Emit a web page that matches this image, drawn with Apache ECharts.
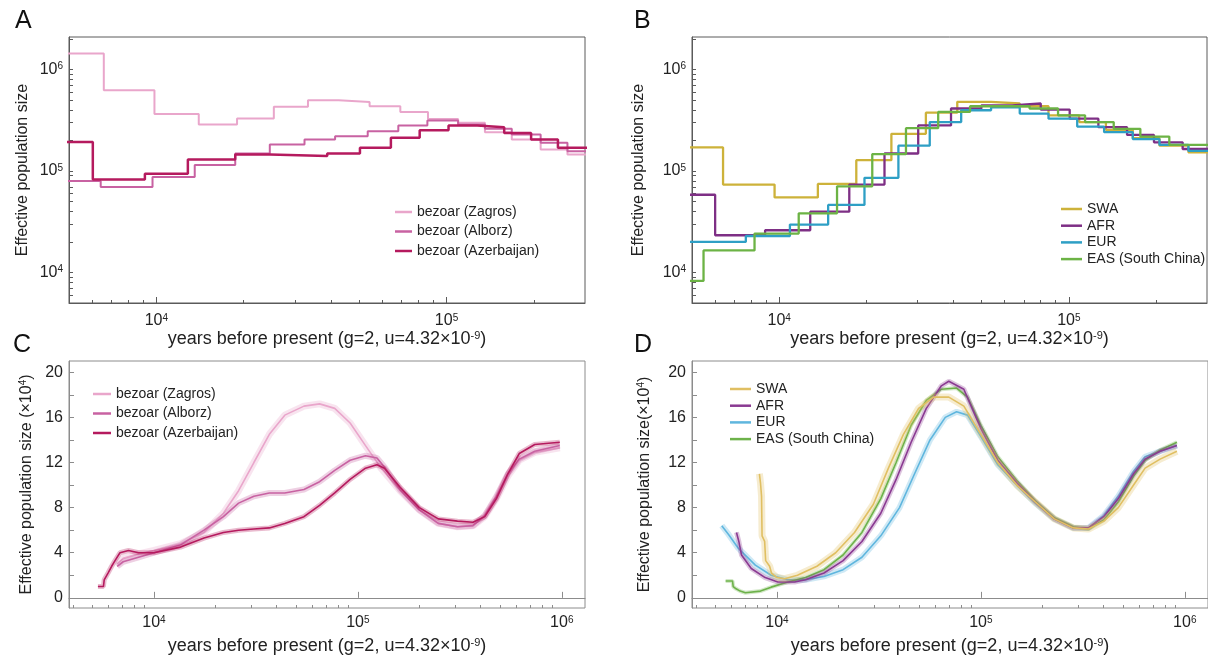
<!DOCTYPE html>
<html><head><meta charset="utf-8">
<script src="https://cdn.jsdelivr.net/npm/echarts@6/dist/echarts.min.js"></script>
<style>html,body{margin:0;padding:0;background:#fff}#c{width:1208px;height:658px}</style>
</head><body><div id="c"></div>
<script>
// ---------- Panel A (PSMC, log-log, [years, Ne]) ----------
const zagrosA = [[4000,1.44e6],[6590,6.27e5],[9850,3.66e5],[14000,2.88e5],[18970,3.30e5],[25400,4.30e5],[33300,4.99e5],[42500,4.81e5],[54300,4.36e5],[69300,3.83e5],[86300,3.27e5],[109600,2.99e5],[135600,2.42e5],[167800,2.05e5],[211000,1.63e5],[261000,1.46e5],[400000,1.46e5]];
const alborzA = [[4000,7.98e4],[6430,6.97e4],[9700,8.74e4],[13560,1.15e5],[18700,1.49e5],[24600,1.83e5],[32400,2.05e5],[41300,2.21e5],[53500,2.47e5],[68200,2.81e5],[85900,3.15e5],[109600,2.88e5],[135600,2.61e5],[167800,2.29e5],[211000,1.90e5],[261000,1.57e5],[400000,1.57e5]];
const azerA = [[4000,1.93e5],[6040,8.28e4],[9130,9.42e4],[12840,1.30e5],[18700,1.46e5],[24600,1.41e5],[38800,1.49e5],[50300,1.70e5],[64300,2.13e5],[80800,2.53e5],[101600,2.81e5],[127600,2.71e5],[158000,2.38e5],[195600,2.05e5],[242000,1.70e5],[400000,1.70e5]];

// ---------- Panel B ----------
const swaB = [[4000,1.71e5],[6400,7.36e4],[9640,5.50e4],[13600,7.47e4],[18460,1.28e5],[24400,2.33e5],[32100,3.77e5],[41200,4.82e5],[53900,4.64e5],[67700,4.36e5],[85100,3.55e5],[108600,3.04e5],[134300,2.55e5],[166300,2.11e5],[205600,1.78e5],[258800,1.53e5],[400000,1.53e5]];
const afrB = [[4000,5.84e4],[6010,2.33e4],[8940,2.61e4],[12800,3.98e4],[17460,7.36e4],[23100,1.49e5],[30200,2.82e5],[39200,4.14e5],[49900,4.45e5],[63700,4.64e5],[80000,4.04e5],[100700,3.29e5],[126500,2.71e5],[158900,2.27e5],[196800,1.92e5],[247200,1.65e5],[400000,1.65e5]];
const eurB = [[4000,2.0e4],[7670,2.29e4],[10890,2.97e4],[14760,4.64e4],[19700,8.58e4],[25800,1.78e5],[33100,3.04e5],[42500,3.98e5],[53900,4.24e5],[67700,3.69e5],[85100,3.29e5],[106900,2.75e5],[132400,2.42e5],[166300,2.07e5],[205600,1.81e5],[258800,1.58e5],[400000,1.58e5]];
const easB = [[4000,8.26e3],[5480,1.65e4],[8220,2.42e4],[11680,3.83e4],[15840,7.08e4],[20960,1.47e5],[27400,2.65e5],[35400,3.83e5],[45600,4.36e5],[58200,4.36e5],[73200,4.14e5],[91800,3.55e5],[113800,3.04e5],[142900,2.61e5],[176600,2.19e5],[222300,1.81e5],[400000,1.81e5]];

// ---------- Panel C (×10^4) ----------
const zagrosC = [[6600,3.0],[7060,3.5],[8400,3.9],[10000,4.2],[13500,4.8],[17600,5.8],[21900,7.5],[26000,9.5],[30900,12.0],[36800,14.5],[43800,16.2],[54400,17.0],[64900,17.2],[77000,16.8],[91600,15.5],[109000,13.5],[130000,11.5],[161000,9.5],[200000,7.8],[248000,6.6],[308000,6.3],[367000,6.4],[419000,7.2],[478000,8.8],[544000,10.8],[619000,12.2],[737000,12.9],[978000,13.3]];
const alborzC = [[6600,2.8],[7060,3.2],[8400,3.6],[10000,4.0],[13500,4.7],[17600,6.0],[21900,7.2],[26000,8.4],[30900,9.0],[36800,9.3],[43800,9.3],[54400,9.6],[64900,10.3],[77000,11.3],[91600,12.2],[109000,12.6],[124000,12.4],[135000,11.6],[161000,9.6],[200000,7.8],[248000,6.6],[308000,6.3],[367000,6.4],[419000,7.3],[478000,9.0],[544000,11.0],[619000,12.3],[737000,13.0],[978000,13.5]];
const azerC = [[5310,1.0],[5650,1.0],[5700,1.6],[5950,2.2],[6200,2.8],[6440,3.3],[6810,4.0],[7500,4.2],[8400,4.0],[10000,4.0],[13500,4.5],[17600,5.3],[21900,5.8],[26000,6.0],[30900,6.1],[36800,6.2],[43800,6.6],[54400,7.2],[64900,8.2],[77000,9.3],[91600,10.5],[109000,11.5],[124000,11.8],[135000,11.5],[161000,9.8],[200000,8.0],[248000,7.0],[308000,6.8],[367000,6.7],[419000,7.2],[478000,8.8],[544000,11.0],[619000,12.8],[737000,13.6],[978000,13.8]];

// ---------- Panel D (×10^4) ----------
const swaD = [[8200,11.0],[8300,10.2],[8400,9.0],[8450,5.5],[8700,5.0],[8800,3.3],[9200,2.8],[9400,2.2],[10000,1.8],[10900,1.7],[12600,2.0],[15700,2.8],[19400,4.0],[24000,5.8],[29700,8.3],[35200,11.5],[41700,14.5],[49500,16.8],[58700,17.8],[69600,17.8],[82500,17.0],[100000,14.5],[121000,12.0],[150000,10.0],[185000,8.5],[229000,7.0],[284000,6.2],[337000,6.1],[401000,6.8],[472000,8.0],[561000,10.0],[639000,11.5],[757000,12.3],[915000,13.0]];
const afrD = [[6330,5.8],[6500,5.0],[6700,3.8],[7480,2.6],[8750,1.8],[10100,1.4],[12200,1.4],[13800,1.6],[17000,2.2],[21100,3.3],[26100,5.0],[32300,7.5],[38400,10.5],[45500,13.8],[54000,16.8],[64000,18.8],[69600,19.2],[82500,18.5],[100000,15.0],[121000,12.2],[150000,10.2],[185000,8.5],[229000,7.0],[284000,6.2],[337000,6.2],[401000,7.2],[472000,8.8],[561000,11.0],[639000,12.3],[757000,13.0],[915000,13.5]];
const eurD = [[5360,6.4],[5800,5.6],[6460,4.4],[7830,2.9],[9360,2.0],[11300,1.6],[13800,1.6],[17000,1.9],[21100,2.5],[26100,3.6],[32300,5.5],[39900,8.0],[47300,11.0],[56300,14.0],[66900,16.0],[76000,16.5],[86000,16.2],[100000,14.3],[121000,11.8],[150000,10.0],[185000,8.4],[229000,7.0],[284000,6.2],[337000,6.2],[401000,7.3],[472000,9.0],[561000,11.2],[639000,12.5],[757000,13.0],[915000,13.5]];
const easD = [[5600,1.5],[6050,1.5],[6100,1.0],[6300,0.8],[6600,0.6],[7000,0.45],[8300,0.6],[9360,0.95],[11300,1.4],[13800,1.8],[17000,2.5],[21100,3.8],[26100,5.8],[32300,8.8],[38400,12.0],[45500,15.3],[54000,17.5],[64000,18.5],[76000,18.6],[86000,17.8],[100000,15.3],[121000,12.5],[150000,10.4],[185000,8.6],[229000,7.1],[284000,6.3],[337000,6.1],[401000,6.9],[472000,8.5],[561000,10.8],[639000,12.2],[757000,13.1],[915000,13.8]];

// ---------- names / ticks ----------
const bezoarNames = ['bezoar (Zagros)','bezoar (Alborz)','bezoar (Azerbaijan)'];
const humanNames = ['SWA','AFR','EUR','EAS (South China)'];
const xMajorAB = [1e4, 1e5];
const yMajorAB = [1e4, 1e5, 1e6];
const xMajorCD = [1e4, 1e5, 1e6];
const yMajorCD = [0, 4, 8, 12, 16, 20];
const yTicksCD = [0, 2, 4, 6, 8, 10, 12, 14, 16, 18, 20];
const mantissas = [2,3,4,5,6,7,8,9];
const xTitle = 'years before present (g=2, u=4.32×10{s|-9})';

const FONT = 'Liberation Sans, Arial, Helvetica, sans-serif';
const TXT = '#222';
const colA = ['#E9A6CB','#C862A2','#B51A5E'];
const colB = ['#CDB23A','#7E2F85','#2E9FC5','#6CB345'];
const colD = ['#E0BF62','#8A3A92','#5FB6DE','#6DB24A'];

function minors(lo, hi) {
  const out = [];
  for (let e = 2; e <= 7; e++) mantissas.forEach(m => { const v = m * Math.pow(10, e); if (v > lo && v < hi) out.push(v); });
  return out;
}
const pow10 = v => '10{s|' + Math.round(Math.log10(v)) + '}';
const supRich = { s: { fontSize: 10, verticalAlign: 'top', color: TXT, fontFamily: FONT } };

function xAxes(g, min, max, majors, line, labelMargin, nameGap) {
  return [
    { type: 'log', gridIndex: g, min, max, position: 'bottom',
      name: xTitle, nameLocation: 'middle', nameGap,
      nameTextStyle: { fontSize: 18, color: TXT, fontFamily: FONT, rich: { s: { fontSize: 11, verticalAlign: 'top', color: TXT, fontFamily: FONT } } },
      axisLine: { show: true, lineStyle: { color: line, width: 1 } },
      axisTick: { show: true, inside: true, length: 6, customValues: majors, lineStyle: { color: line } },
      axisLabel: { customValues: majors, formatter: pow10, margin: labelMargin, fontSize: 16, color: TXT, fontFamily: FONT, rich: supRich },
      splitLine: { show: false }, minorTick: { show: false } },
    { type: 'log', gridIndex: g, min, max, position: 'bottom', offset: 0,
      axisLine: { show: false },
      axisTick: { show: true, inside: true, length: 3, customValues: minors(min, max), lineStyle: { color: line } },
      axisLabel: { show: false }, splitLine: { show: false } }
  ];
}
function yLogAxis(g, min, max, majors, line, name, nameGap) {
  return { type: 'log', gridIndex: g, min, max, position: 'left',
    name, nameLocation: 'middle', nameGap, nameRotate: 90,
    nameTextStyle: { fontSize: 16, color: TXT, fontFamily: FONT },
    axisLine: { show: true, lineStyle: { color: line, width: 1 } },
    axisTick: { show: true, inside: true, length: 4, customValues: majors.concat(minors(min, max)), lineStyle: { color: line } },
    axisLabel: { customValues: majors, formatter: pow10, margin: 6, fontSize: 16, color: TXT, fontFamily: FONT, rich: supRich },
    splitLine: { show: false } };
}
function yValAxis(g, name, line, nameGap) {
  return { type: 'value', gridIndex: g, min: -0.9, max: 21, position: 'left',
    name, nameLocation: 'middle', nameGap, nameRotate: 90,
    nameTextStyle: { fontSize: 16, color: TXT, fontFamily: FONT, rich: { s: { fontSize: 10, verticalAlign: 'top', color: TXT, fontFamily: FONT } } },
    axisLine: { show: true, lineStyle: { color: line, width: 1 } },
    axisTick: { show: true, inside: true, length: 5, customValues: yTicksCD, lineStyle: { color: line } },
    axisLabel: { customValues: yMajorCD, margin: 6, fontSize: 16, color: TXT, fontFamily: FONT },
    splitLine: { show: false } };
}

function stepLine(name, data, color, width, g) {
  return { type: 'line', name, data, xAxisIndex: 2*g, yAxisIndex: g, step: 'end',
    symbol: 'none', showSymbol: false, silent: true,
    lineStyle: { color, width }, itemStyle: { color } };
}
function bundle(name, data, color, g, bw) {
  return [
    { type: 'line', name: name + ' bootstrap', data, xAxisIndex: 2*g, yAxisIndex: g,
      symbol: 'none', showSymbol: false, silent: true,
      lineStyle: { color, width: bw, opacity: 0.3 }, itemStyle: { color } },
    { type: 'line', name, data, xAxisIndex: 2*g, yAxisIndex: g,
      symbol: 'none', showSymbol: false, silent: true,
      lineStyle: { color, width: 1.6 }, itemStyle: { color } }
  ];
}
function legend(left, top, names, colors, gap, iw) {
  return { left, top, orient: 'vertical', itemGap: gap, itemWidth: iw, itemHeight: 2.5, icon: 'rect',
    selectedMode: false,
    textStyle: { fontSize: 14, color: TXT, fontFamily: FONT },
    data: names.map((n, i) => ({ name: n, itemStyle: { color: colors[i] } })) };
}

const lineAB = '#5a5a5a', lineCD = '#8c8c8c';
const yTitleAB = 'Effective population size';

const option = {
  animation: false,
  backgroundColor: '#fff',
  textStyle: { fontFamily: FONT },
  grid: [
    { left: 69, top: 37, width: 516, height: 266, show: true, borderColor: lineAB, borderWidth: 1, backgroundColor: 'transparent' },
    { left: 692, top: 37, width: 515, height: 266, show: true, borderColor: lineAB, borderWidth: 1, backgroundColor: 'transparent' },
    { left: 69, top: 361, width: 516, height: 247, show: true, borderColor: lineCD, borderWidth: 1, backgroundColor: 'transparent' },
    { left: 692, top: 361, width: 524, height: 247, show: true, borderColor: lineCD, borderWidth: 1, backgroundColor: 'transparent' }
  ],
  xAxis: [].concat(
    xAxes(0, 5000, 300000, xMajorAB, lineAB, 10, 27),
    xAxes(1, 5000, 300000, xMajorAB, lineAB, 10, 27),
    xAxes(2, 3830, 1.3e6, xMajorCD, lineCD, 7, 29),
    xAxes(3, 3830, 1.3e6, xMajorCD, lineCD, 7, 29)
  ),
  yAxis: [
    yLogAxis(0, 5000, 2.1e6, yMajorAB, lineAB, yTitleAB, 38.5),
    yLogAxis(1, 5000, 2.1e6, yMajorAB, lineAB, yTitleAB, 45.5),
    yValAxis(2, 'Effective population size (×10{s|4})', lineCD, 34.5),
    yValAxis(3, 'Effective population size(×10{s|4})', lineCD, 39.5)
  ],
  legend: [
    legend(390, 200, bezoarNames, colA, 5.5, 17),
    legend(1056, 197, humanNames, colB, 2.7, 21),
    legend(88, 382, bezoarNames, colA, 5.5, 18),
    legend(725, 377, humanNames, colD, 2.7, 21)
  ],
  graphic: [
    { type: 'text', left: 15, top: 9, style: { text: 'A', fontSize: 25, fill: '#111', fontFamily: FONT } },
    { type: 'text', left: 634, top: 9, style: { text: 'B', fontSize: 25, fill: '#111', fontFamily: FONT } },
    { type: 'text', left: 13, top: 333, style: { text: 'C', fontSize: 25, fill: '#111', fontFamily: FONT } },
    { type: 'text', left: 634, top: 333, style: { text: 'D', fontSize: 25, fill: '#111', fontFamily: FONT } }
  ],
  series: [].concat(
    stepLine(bezoarNames[0], zagrosA, colA[0], 2, 0),
    stepLine(bezoarNames[1], alborzA, colA[1], 2, 0),
    stepLine(bezoarNames[2], azerA, colA[2], 2.5, 0),
    stepLine(humanNames[0], swaB, colB[0], 2.3, 1),
    stepLine(humanNames[1], afrB, colB[1], 2.3, 1),
    stepLine(humanNames[2], eurB, colB[2], 2.3, 1),
    stepLine(humanNames[3], easB, colB[3], 2.3, 1),
    bundle(bezoarNames[0], zagrosC, colA[0], 2, 7),
    bundle(bezoarNames[1], alborzC, colA[1], 2, 6),
    bundle(bezoarNames[2], azerC, colA[2], 2, 5),
    bundle(humanNames[2], eurD, colD[2], 3, 6),
    bundle(humanNames[3], easD, colD[3], 3, 4),
    bundle(humanNames[1], afrD, colD[1], 3, 5),
    bundle(humanNames[0], swaD, colD[0], 3, 7)
  )
};

const chart = echarts.init(document.getElementById('c'), null, { renderer: 'canvas' });
chart.setOption(option);
</script></body></html>
